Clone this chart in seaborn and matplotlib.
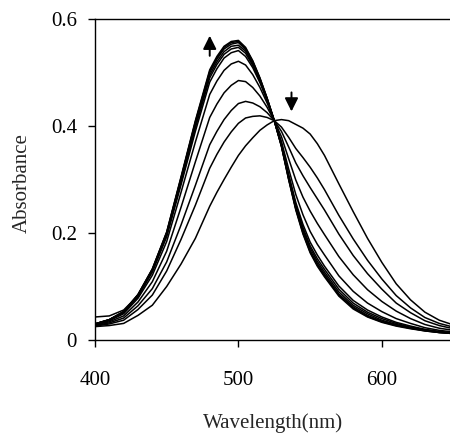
"""Espectros de absorcion UV-vis de una titulacion (punto isosbestico ~525 nm)."""

import pandas as pd
import matplotlib
matplotlib.use("Agg")
import matplotlib.pyplot as plt
import seaborn as sns


# longitud de onda (nm): cada 10 nm en las colas, cada 5 nm cerca del maximo
wavelength = [400, 410, 420, 430, 440, 450, 460, 470, 480,
              485, 490, 495, 500, 505, 510, 515, 520, 525, 530, 535, 540, 545, 550, 555, 560,
              570, 580, 590, 600, 610, 620, 630, 640, 650]

# absorbancia, del espectro inicial (rojo) al final (azul)
abs_00 = [0.025, 0.027, 0.031, 0.046, 0.065, 0.100, 0.142, 0.190, 0.250,
          0.276, 0.300, 0.323, 0.345, 0.363, 0.378, 0.392, 0.402, 0.410, 0.412, 0.410, 0.403, 0.396, 0.385, 0.367, 0.345,
          0.292, 0.240, 0.190, 0.145, 0.105, 0.075, 0.052, 0.037, 0.028]
abs_01 = [0.026, 0.030, 0.037, 0.057, 0.084, 0.129, 0.188, 0.252, 0.321,
          0.347, 0.370, 0.389, 0.405, 0.415, 0.418, 0.419, 0.416, 0.410, 0.398, 0.379, 0.358, 0.341, 0.323, 0.303, 0.281,
          0.233, 0.189, 0.149, 0.114, 0.083, 0.060, 0.042, 0.031, 0.024]
abs_02 = [0.027, 0.032, 0.041, 0.064, 0.096, 0.146, 0.215, 0.289, 0.365,
          0.390, 0.412, 0.429, 0.442, 0.446, 0.443, 0.436, 0.425, 0.410, 0.390, 0.361, 0.331, 0.307, 0.285, 0.264, 0.243,
          0.198, 0.158, 0.124, 0.095, 0.069, 0.051, 0.036, 0.027, 0.021]
abs_03 = [0.028, 0.034, 0.045, 0.071, 0.109, 0.166, 0.248, 0.333, 0.416,
          0.441, 0.462, 0.476, 0.485, 0.483, 0.472, 0.456, 0.435, 0.410, 0.380, 0.339, 0.299, 0.267, 0.241, 0.218, 0.197,
          0.156, 0.122, 0.094, 0.072, 0.054, 0.040, 0.029, 0.022, 0.018]
abs_04 = [0.029, 0.036, 0.049, 0.078, 0.121, 0.184, 0.276, 0.370, 0.459,
          0.484, 0.504, 0.516, 0.521, 0.514, 0.496, 0.472, 0.443, 0.410, 0.371, 0.320, 0.272, 0.234, 0.203, 0.179, 0.159,
          0.120, 0.091, 0.069, 0.053, 0.040, 0.031, 0.023, 0.018, 0.015]
abs_05 = [0.030, 0.037, 0.051, 0.081, 0.127, 0.193, 0.290, 0.390, 0.482,
          0.507, 0.527, 0.537, 0.541, 0.530, 0.509, 0.481, 0.448, 0.410, 0.367, 0.310, 0.257, 0.216, 0.183, 0.159, 0.138,
          0.101, 0.074, 0.056, 0.043, 0.033, 0.026, 0.020, 0.016, 0.013]
abs_06 = [0.043, 0.045, 0.056, 0.083, 0.129, 0.196, 0.295, 0.397, 0.490,
          0.515, 0.534, 0.544, 0.547, 0.536, 0.513, 0.484, 0.449, 0.410, 0.365, 0.307, 0.253, 0.210, 0.176, 0.152, 0.132,
          0.095, 0.069, 0.052, 0.040, 0.031, 0.024, 0.019, 0.015, 0.013]
abs_07 = [0.030, 0.038, 0.052, 0.083, 0.130, 0.198, 0.298, 0.401, 0.495,
          0.520, 0.539, 0.549, 0.551, 0.540, 0.516, 0.486, 0.450, 0.410, 0.364, 0.304, 0.249, 0.206, 0.172, 0.147, 0.127,
          0.090, 0.065, 0.049, 0.037, 0.029, 0.023, 0.018, 0.015, 0.013]
abs_08 = [0.030, 0.038, 0.053, 0.084, 0.132, 0.200, 0.302, 0.406, 0.500,
          0.525, 0.544, 0.553, 0.556, 0.543, 0.519, 0.488, 0.451, 0.410, 0.363, 0.302, 0.246, 0.202, 0.167, 0.143, 0.123,
          0.086, 0.062, 0.046, 0.035, 0.028, 0.022, 0.018, 0.014, 0.012]
abs_09 = [0.030, 0.038, 0.053, 0.085, 0.132, 0.201, 0.303, 0.408, 0.502,
          0.527, 0.547, 0.556, 0.558, 0.545, 0.521, 0.489, 0.452, 0.410, 0.362, 0.301, 0.245, 0.200, 0.165, 0.140, 0.120,
          0.084, 0.060, 0.044, 0.034, 0.027, 0.022, 0.017, 0.014, 0.012]
abs_10 = [0.030, 0.038, 0.053, 0.085, 0.133, 0.202, 0.305, 0.410, 0.505,
          0.530, 0.549, 0.558, 0.560, 0.547, 0.522, 0.490, 0.452, 0.410, 0.362, 0.300, 0.243, 0.198, 0.163, 0.138, 0.118,
          0.082, 0.058, 0.043, 0.033, 0.026, 0.021, 0.017, 0.014, 0.012]

spectra = [abs_00, abs_01, abs_02, abs_03, abs_04, abs_05, abs_06, abs_07, abs_08, abs_09, abs_10]

x_ticks = [400, 500, 600]
y_ticks = [0, 0.2, 0.4, 0.6]
y_tick_labels = ["0", "0.2", "0.4", "0.6"]

df = pd.concat(
    [pd.DataFrame({"wavelength": wavelength, "absorbance": s, "curve": i}) for i, s in enumerate(spectra)],
    ignore_index=True,
)

sns.set_style("ticks")
plt.rcParams["font.family"] = ["Liberation Serif", "DejaVu Serif"]

fig = plt.figure(figsize=(4.5, 4.34), dpi=100)
ax = fig.add_axes([0.211, 0.2166, 0.797, 0.7396])

sns.lineplot(data=df, x="wavelength", y="absorbance", units="curve", estimator=None,
             color="black", linewidth=1.1, ax=ax, legend=False)

# flechas: sube la banda a ~500 nm, baja la de ~540 nm
ax.annotate("", xy=(480, 0.574), xytext=(480, 0.526),
            arrowprops=dict(arrowstyle="-|>", color="black", lw=1.4, mutation_scale=20))
ax.annotate("", xy=(537, 0.422), xytext=(537, 0.468),
            arrowprops=dict(arrowstyle="-|>", color="black", lw=1.4, mutation_scale=20))

ax.set_xlim(400, 650)
ax.set_ylim(0, 0.6)
ax.set_xticks(x_ticks)
ax.set_yticks(y_ticks)
ax.set_yticklabels(y_tick_labels)
ax.spines["right"].set_visible(False)
for side in ["left", "bottom", "top"]:
    ax.spines[side].set_linewidth(1.0)
    ax.spines[side].set_color("black")
ax.tick_params(axis="both", direction="out", length=5, width=1.0, colors="black", labelsize=15)
ax.tick_params(axis="x", pad=17)
ax.tick_params(axis="y", pad=8)

ax.set_xlabel("Wavelength(nm)", fontsize=15)
ax.set_ylabel("Absorbance", fontsize=15)
ax.xaxis.set_label_coords(0.496, -0.228)
ax.yaxis.set_label_coords(-0.175, 0.49)

fig.savefig("out.png", dpi=100, facecolor="white")
